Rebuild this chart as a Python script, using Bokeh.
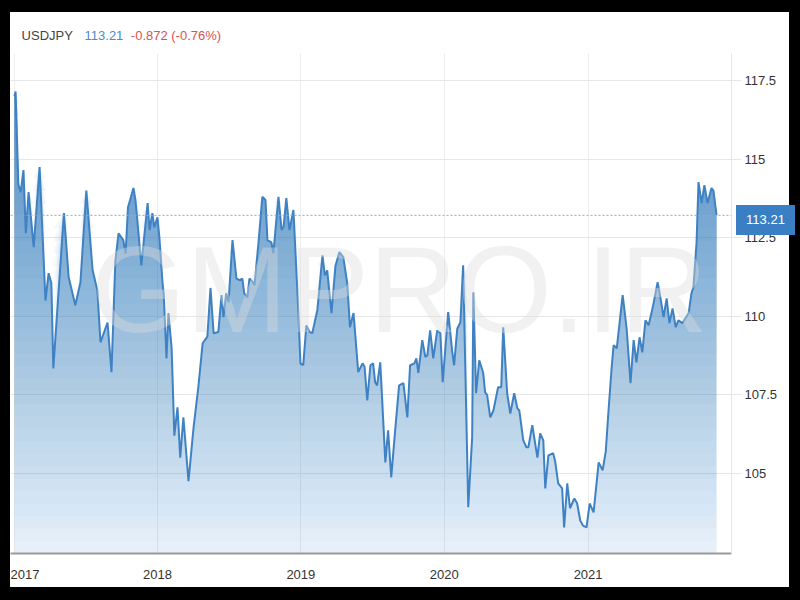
import numpy as np
import pandas as pd
from bokeh.plotting import figure
from bokeh.layouts import column
from bokeh.models import Label, Span, FixedTicker, CustomJSTickFormatter, Range1d, Div
from bokeh.core.properties import value
from bokeh.embed import file_html
from bokeh.resources import INLINE

# ---------------- data ----------------
symbol = "USDJPY"
last_price = 113.21
change_text = "-0.872 (-0.76%)"
watermark = "GMPRO.IR"

dates_2017 = ["2017-01-02", "2017-01-05", "2017-01-12", "2017-01-18", "2017-01-25", "2017-01-31",
              "2017-02-07", "2017-02-20", "2017-03-07", "2017-03-22", "2017-03-30", "2017-04-06",
              "2017-04-11", "2017-05-08", "2017-05-20", "2017-06-06", "2017-06-19", "2017-07-04",
              "2017-07-20", "2017-08-01", "2017-08-09", "2017-08-27", "2017-09-06", "2017-09-16",
              "2017-09-24", "2017-10-06", "2017-10-12", "2017-10-18", "2017-11-01", "2017-11-06",
              "2017-11-21", "2017-12-07", "2017-12-12", "2017-12-19", "2017-12-24"]
values_2017 = [117.0, 117.15, 114.2, 113.95, 114.65, 112.64, 113.95, 112.2, 114.75, 110.5, 111.37,
               111.05, 108.34, 113.28, 111.24, 110.35, 111.08, 114.0, 111.46, 110.83, 109.17, 109.8,
               108.22, 111.78, 112.64, 112.42, 112.0, 113.47, 114.08, 113.7, 111.62, 113.6, 112.74,
               113.28, 112.83]

dates_2018 = ["2018-01-01", "2018-01-06", "2018-01-14", "2018-01-17", "2018-01-24", "2018-01-29",
              "2018-02-06", "2018-02-13", "2018-02-21", "2018-02-28", "2018-03-08", "2018-03-21",
              "2018-04-03", "2018-04-15", "2018-04-26", "2018-05-08", "2018-05-16", "2018-05-24",
              "2018-06-05", "2018-06-13", "2018-06-18", "2018-06-25", "2018-07-01", "2018-07-11",
              "2018-07-21", "2018-07-29", "2018-08-05", "2018-08-10", "2018-08-18", "2018-08-23",
              "2018-08-31", "2018-09-05", "2018-09-15", "2018-09-25", "2018-10-03", "2018-10-08",
              "2018-10-18", "2018-10-23", "2018-11-05", "2018-11-13", "2018-11-18", "2018-11-25",
              "2018-12-03", "2018-12-13", "2018-12-23", "2018-12-31"]
values_2018 = [113.15, 112.5, 111.05, 110.7, 108.66, 110.1, 109.0, 106.2, 107.1, 105.5, 106.78,
               104.75, 106.47, 107.74, 109.14, 109.35, 110.9, 109.46, 109.5, 110.67, 109.97, 110.73,
               110.45, 112.42, 111.2, 111.15, 111.2, 110.73, 110.6, 111.2, 111.1, 110.99, 112.32,
               113.8, 113.7, 112.42, 112.35, 112.0, 113.8, 112.74, 112.85, 113.76, 112.74, 113.38,
               110.83, 108.5]

dates_2019 = ["2019-01-07", "2019-01-15", "2019-01-23", "2019-01-30", "2019-02-12", "2019-02-25",
              "2019-03-03", "2019-03-09", "2019-03-20", "2019-03-30", "2019-04-09", "2019-04-19",
              "2019-04-29", "2019-05-06", "2019-05-15", "2019-05-27", "2019-06-07", "2019-06-12",
              "2019-06-19", "2019-06-27", "2019-07-04", "2019-07-09", "2019-07-14", "2019-07-22",
              "2019-08-04", "2019-08-11", "2019-08-19", "2019-08-29", "2019-09-08", "2019-09-19",
              "2019-09-29", "2019-10-06", "2019-10-17", "2019-10-22", "2019-10-27", "2019-11-06",
              "2019-11-14", "2019-11-19", "2019-11-26", "2019-12-04", "2019-12-14", "2019-12-22",
              "2019-12-28"]
values_2019 = [108.44, 109.71, 109.5, 109.46, 110.2, 111.94, 111.3, 111.46, 110.1, 111.6, 112.04,
               111.88, 111.05, 109.65, 110.1, 108.22, 108.5, 108.4, 107.32, 108.44, 108.5, 107.9,
               107.8, 108.53, 105.35, 106.37, 104.87, 106.37, 107.8, 107.87, 106.78, 108.44, 108.5,
               108.66, 108.2, 109.24, 108.7, 108.76, 109.55, 108.66, 109.55, 109.46, 107.9]

dates_2020 = ["2020-01-11", "2020-01-21", "2020-01-26", "2020-02-03", "2020-02-11", "2020-02-18",
              "2020-03-02", "2020-03-12", "2020-03-15", "2020-03-22", "2020-03-30", "2020-04-09",
              "2020-04-14", "2020-04-19", "2020-04-27", "2020-05-05", "2020-05-17", "2020-05-25",
              "2020-05-30", "2020-06-09", "2020-06-17", "2020-06-27", "2020-07-05", "2020-07-10",
              "2020-07-20", "2020-07-28", "2020-08-02", "2020-08-12", "2020-08-25", "2020-09-01",
              "2020-09-09", "2020-09-14", "2020-09-22", "2020-10-04", "2020-10-09", "2020-10-17",
              "2020-10-27", "2020-11-01", "2020-11-09", "2020-11-16", "2020-11-27", "2020-12-04",
              "2020-12-12", "2020-12-19", "2020-12-28"]
values_2020 = [110.13, 108.9, 108.44, 109.6, 109.81, 111.62, 103.92, 106.15, 110.76, 107.55, 108.6,
               108.2, 107.58, 107.5, 106.78, 107.0, 107.74, 107.74, 109.65, 107.55, 106.9, 107.55,
               107.07, 107.0, 106.05, 105.83, 105.83, 106.53, 105.5, 106.27, 106.05, 104.52, 105.57,
               105.64, 105.4, 104.68, 104.52, 103.28, 104.68, 103.89, 104.2, 104.05, 103.5, 103.34,
               103.28]

dates_2021 = ["2021-01-05", "2021-01-15", "2021-01-28", "2021-02-07", "2021-02-15", "2021-02-22",
              "2021-03-02", "2021-03-07", "2021-03-15", "2021-03-30", "2021-04-09", "2021-04-19",
              "2021-04-27", "2021-05-04", "2021-05-12", "2021-05-19", "2021-05-27", "2021-06-04",
              "2021-06-14", "2021-06-27", "2021-07-04", "2021-07-12", "2021-07-20", "2021-07-27",
              "2021-08-04", "2021-08-12", "2021-08-19", "2021-08-29", "2021-09-06", "2021-09-14",
              "2021-09-21", "2021-09-26", "2021-10-04", "2021-10-09", "2021-10-17", "2021-10-24",
              "2021-11-01", "2021-11-11", "2021-11-16", "2021-11-24"]
values_2021 = [104.04, 103.76, 105.35, 105.1, 105.7, 107.0, 108.37, 109.08, 108.98, 110.67, 109.62,
               107.87, 109.24, 108.53, 109.33, 108.85, 109.87, 109.71, 110.25, 111.08, 110.6, 109.97,
               110.57, 109.78, 110.25, 109.65, 109.87, 109.78, 109.94, 110.1, 110.73, 110.92, 112.32,
               114.27, 113.6, 114.17, 113.6, 114.08, 114.0, 113.21]

year_ticks = ["2017-01-01", "2018-01-01", "2019-01-01", "2020-01-01", "2021-01-01"]
price_ticks = [105, 107.5, 110, 112.5, 115, 117.5]

# ---------------- build ----------------
dates = pd.to_datetime(dates_2017 + dates_2018 + dates_2019 + dates_2020 + dates_2021)
values = np.array(values_2017 + values_2018 + values_2019 + values_2020 + values_2021)

FONT = "Liberation Sans"
BLUE = "#3d82c6"

# header strip (own little figure so that its text is not clipped)
head = figure(width=779, height=41, x_range=Range1d(0, 779), y_range=Range1d(41, 0),
              output_backend="svg", toolbar_location=None, x_axis_location=None,
              y_axis_location=None,
              min_border_left=0, min_border_right=0, min_border_top=0, min_border_bottom=0)
head.grid.visible = False
head.outline_line_color = None
head.background_fill_color = "white"
head.border_fill_color = "white"
head.text(x=[12], y=[23], text=[symbol], text_font=value(FONT), text_font_size="13px",
          text_color="#444444", text_baseline="middle")
head.text(x=[80], y=[23], text=[f"{last_price:.2f}"], text_font=value(FONT),
          text_font_size="13px", text_color="#4f8ac8", text_baseline="middle")
head.text(x=[130], y=[23], text=[change_text], text_font=value(FONT), text_font_size="13px",
          text_color="#d9534f", text_baseline="middle")
head.margin = (12, 11, 0, 10)

x_start = pd.Timestamp("2016-12-23")
x_end = pd.Timestamp("2022-01-01")
y_bottom, y_top = 102.45, 118.36

p = figure(width=779, height=534, x_axis_type="datetime", y_axis_location="right",
           x_range=Range1d(x_start, x_end), y_range=Range1d(y_bottom, y_top),
           output_backend="svg", toolbar_location=None,
           min_border_left=0, min_border_right=58, min_border_top=0, min_border_bottom=34)
p.outline_line_color = None
p.background_fill_color = "white"
p.border_fill_color = "white"
p.margin = (0, 11, 13, 10)

# gradient area fill built from stacked translucent layers
n_layers = 40
levels = np.linspace(y_bottom, y_top, n_layers + 1)[:-1]
a_bot, a_top = 0.12, 0.95
prev = 0.0
for k, lv in enumerate(levels):
    target = a_bot + (a_top - a_bot) * (lv - y_bottom) / (y_top - y_bottom)
    a = target if k == 0 else 1 - (1 - target) / (1 - prev)
    prev = target
    p.varea(x=dates, y1=lv, y2=np.maximum(values, lv), fill_color=BLUE, fill_alpha=a)

p.line(dates, values, line_color="#3f82c4", line_width=2)

p.add_layout(Span(location=last_price, dimension="width", line_color="#9aabbd",
                  line_dash="2 2", line_width=1))

# axes
year_ms = [pd.Timestamp(d).value // 10**6 for d in year_ticks]
p.xaxis.ticker = FixedTicker(ticks=year_ms)
p.xaxis.formatter = CustomJSTickFormatter(code="return new Date(tick).getUTCFullYear().toString()")
p.xaxis.axis_line_color = "#999999"
p.xaxis.axis_line_width = 2
p.xaxis.major_tick_line_color = None
p.xaxis.minor_tick_line_color = None
p.xaxis.major_label_standoff = 10
p.xaxis.major_label_text_font = FONT
p.xaxis.major_label_text_font_size = "13px"
p.xaxis.major_label_text_color = "#333333"

p.yaxis.ticker = FixedTicker(ticks=price_ticks)
p.yaxis.formatter = CustomJSTickFormatter(code="return tick.toString()")
p.yaxis.axis_line_color = "#e6e6e6"
p.yaxis.major_tick_line_color = "#e6e6e6"
p.yaxis.major_tick_out = 10
p.yaxis.major_tick_in = 0
p.yaxis.minor_tick_line_color = None
p.yaxis.major_label_standoff = 3
p.yaxis.major_label_text_font = FONT
p.yaxis.major_label_text_font_size = "13px"
p.yaxis.major_label_text_color = "#333333"

p.xgrid.grid_line_color = "#ededed"
p.ygrid.grid_line_color = "#e6e6e6"

# watermark
p.add_layout(Label(x=389, y=110.83, x_units="screen", text=watermark, text_font=FONT,
                   text_font_size="122px", text_color="#dddddd", text_alpha=0.4,
                   text_align="center", text_baseline="middle"))

# last price badge, laid over the right axis area
badge = Div(text=f"{last_price:.2f}", width=59, height=30,
            styles={"position": "absolute", "left": "731px", "top": "200px",
                    "width": "59px", "height": "30px", "background-color": "#3a7fc4",
                    "color": "white", "font-family": FONT, "font-size": "13px",
                    "line-height": "30px", "text-align": "center"})

# black picture frame round a white page (seams between parts stay white)
layout = column(head, p, badge, styles={
    "background-color": "white", "position": "relative",
    "box-shadow": "inset 10px 12px 0 0 black, inset -11px -13px 0 0 black"})

open("out.html", "w").write(file_html(layout, INLINE))
